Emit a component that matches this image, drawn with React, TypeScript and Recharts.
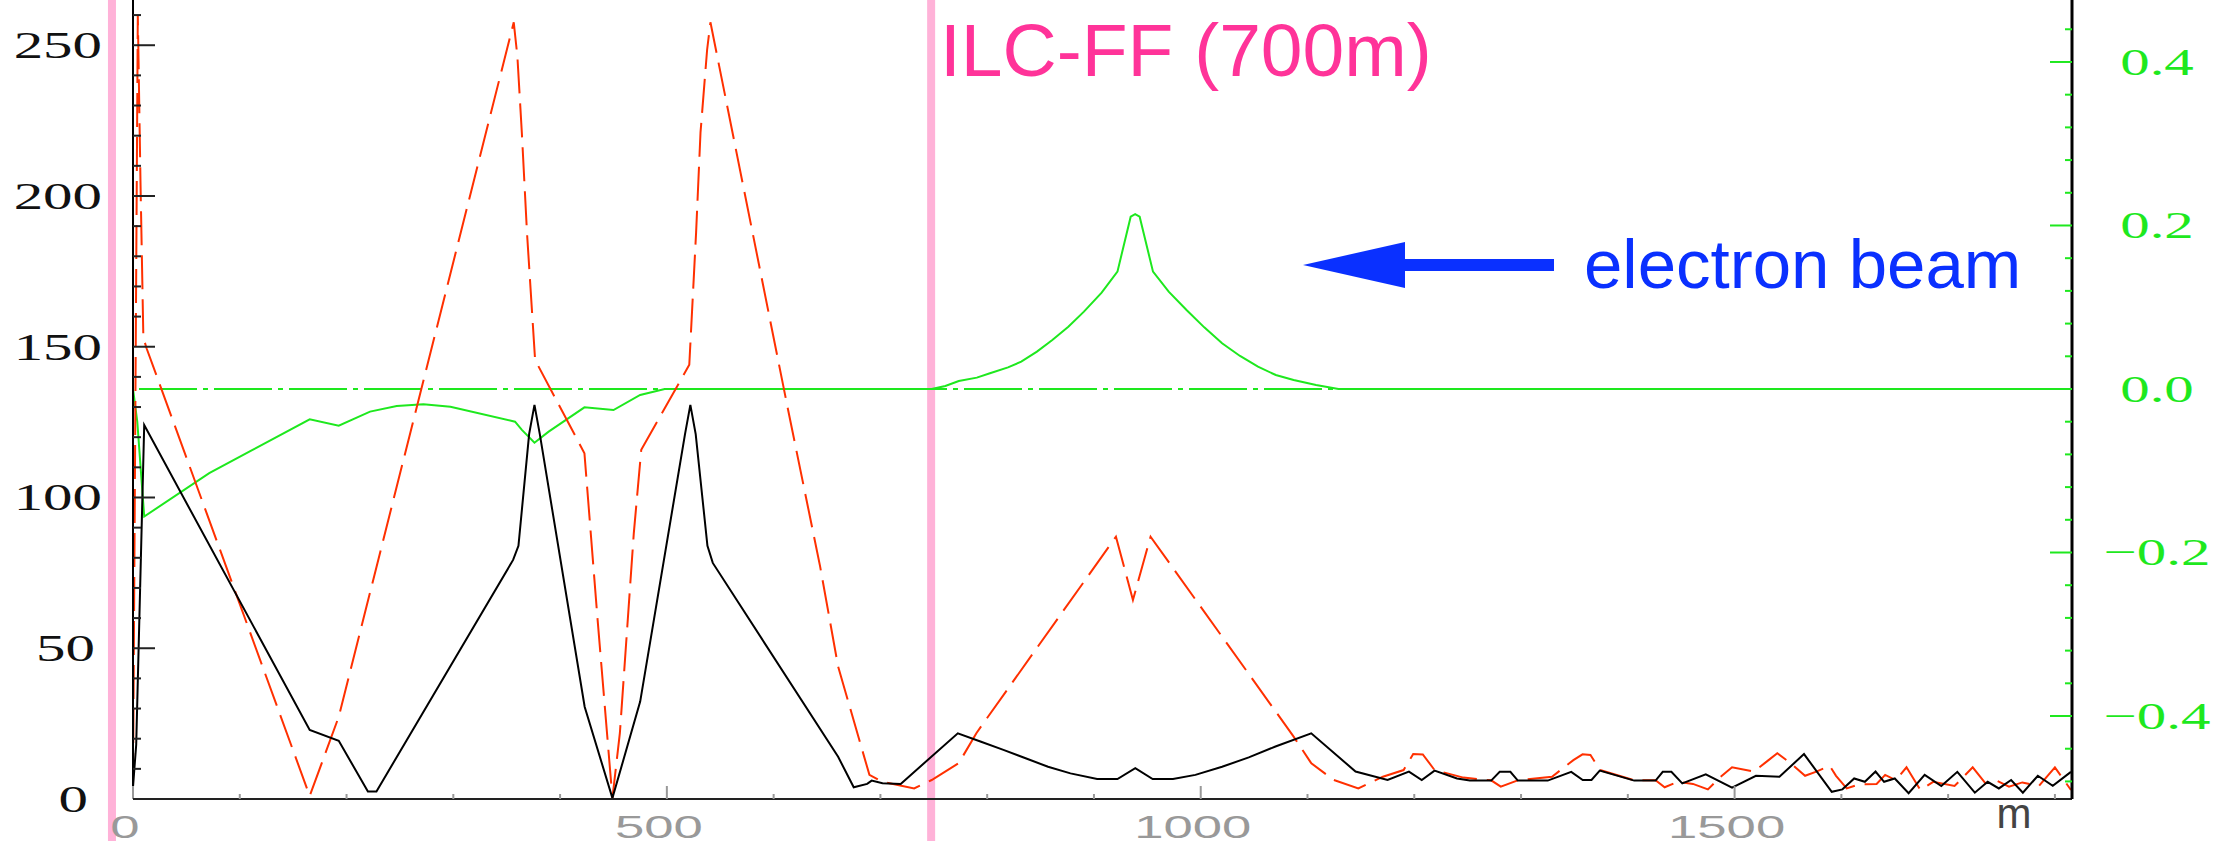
import React from 'react';
import { LineChart, Line, XAxis, YAxis, ReferenceLine } from 'recharts';

// black solid (left axis)
const sBlack = [0, 3, 10.5, 165.5, 192.7, 220, 228, 356, 361, 371, 376, 381, 423, 449, 475, 517, 522, 527, 538, 543, 660.4, 675, 687.6, 691.8, 702, 719, 772.5, 794.3, 815.2, 836, 857, 878, 903, 922, 938.7, 955, 974, 995, 1020, 1045, 1070, 1103.5, 1145, 1175, 1195, 1207, 1219, 1240, 1252, 1272, 1280, 1290, 1297, 1325, 1347, 1357.8, 1366, 1373.7, 1406, 1426, 1432.7, 1440.8, 1451, 1473, 1497.6, 1520, 1542, 1565, 1591, 1601, 1612, 1622, 1632, 1640, 1650, 1663, 1678, 1693.6, 1708.6, 1725, 1737, 1747.5, 1759, 1770, 1784, 1798, 1815];
const vBlack = [4, 18, 124, 22.9, 19.3, 2.5, 2.5, 79.3, 84, 121, 130.7, 121, 30.6, 0.3, 32.3, 121, 130.7, 121, 84, 78.3, 14, 3.9, 5, 6.1, 5.2, 5, 21.8, 19, 16.3, 13.5, 10.7, 8.5, 6.6, 6.6, 10.2, 6.6, 6.6, 8, 10.7, 13.8, 17.4, 21.8, 9.1, 6.3, 9.1, 6.3, 9.4, 6.8, 6.1, 6.1, 9, 9, 6.1, 6.1, 9, 6.3, 6.3, 9.4, 6.1, 6.1, 9, 9, 5.2, 8.2, 3.8, 7.7, 7.4, 14.9, 2.4, 3.2, 6.8, 5.7, 9.1, 5.7, 6.8, 1.9, 8, 4.3, 9, 2.1, 5.7, 3.5, 6.3, 2.1, 7.7, 4.4, 9];

// red dashed (left axis)
const sRed = [0, 4.5, 7, 9.7, 12.7, 165.5, 192.7, 356.6, 360, 364.2, 369, 376.6, 422.8, 435, 449, 456, 469, 476, 521, 527.4, 531.5, 537.7, 540.8, 613, 643.6, 660.4, 689.7, 702, 731.6, 748, 773.4, 790, 920.6, 936.5, 953, 1087, 1103.6, 1124.7, 1147.6, 1170.6, 1190, 1199, 1208, 1219, 1231, 1246, 1272, 1281, 1297, 1329, 1349, 1357.6, 1365, 1374, 1406, 1426, 1434.5, 1447, 1461, 1475, 1487, 1497.6, 1518, 1530, 1540, 1552, 1566, 1576.6, 1589, 1595, 1605, 1617, 1633, 1641, 1651, 1661, 1674, 1686, 1706, 1723, 1735, 1745, 1757, 1769.5, 1785, 1800, 1815];
const vRed = [4, 260, 205, 153, 149.5, 1, 27.3, 257.6, 246.3, 220.8, 187.8, 145.6, 114.7, 60, 0.3, 21.9, 88, 115.8, 144, 188, 221, 248.5, 257.6, 130, 77, 43.9, 8, 5.7, 3.5, 6.3, 11.9, 21.9, 87, 66, 87, 20.7, 11.8, 6.3, 3.5, 7.4, 9.6, 14.9, 14.8, 9.6, 8.5, 7.1, 6.2, 4.1, 6.2, 7.4, 12.9, 14.8, 14.6, 9.6, 6.2, 6.2, 3.9, 5.7, 5, 3.2, 7.4, 10.5, 9.1, 12.4, 15.2, 12, 7.7, 9.1, 11, 7.7, 3.5, 4.9, 5, 8, 6.2, 10.5, 3, 5.7, 4.3, 10.5, 5.2, 6.2, 4.1, 5.5, 4.3, 10.5, 3];

// green solid (right axis)
const sGreen = [0, 4, 10.5, 71.4, 112, 165.5, 192.7, 222, 247, 272, 297.3, 357.8, 364.2, 376, 389.3, 422.8, 450, 475, 498, 748, 760.8, 773.4, 790.3, 802.6, 819.5, 831.9, 846.6, 861, 876, 890.6, 907.2, 922, 934.4, 938.6, 942.8, 955.3, 970, 986.7, 1003.3, 1020, 1036.8, 1053.6, 1070.3, 1087, 1108, 1129, 1815];
const vGreen = [0, -0.04, -0.156, -0.103, -0.0746, -0.0371, -0.0449, -0.0277, -0.0208, -0.0188, -0.0216, -0.04, -0.05, -0.0657, -0.0522, -0.0224, -0.0257, -0.0073, 0, 0, 0.0037, 0.0098, 0.0139, 0.0192, 0.0265, 0.0334, 0.0457, 0.06, 0.0762, 0.0946, 0.1178, 0.1435, 0.2108, 0.214, 0.2108, 0.1435, 0.119, 0.0966, 0.0754, 0.0559, 0.0404, 0.0273, 0.0171, 0.011, 0.0049, 0, 0];

const xTicks = [0, 100, 200, 300, 400, 500, 600, 700, 800, 900, 1000, 1100, 1200, 1300, 1400, 1500, 1600, 1700, 1800];
const xLabels = [0, 500, 1000, 1500];
const leftTicks = [0, 10, 20, 30, 40, 50, 60, 70, 80, 90, 100, 110, 120, 130, 140, 150, 160, 170, 180, 190, 200, 210, 220, 230, 240, 250, 260];
const leftLabels = [0, 50, 100, 150, 200, 250];
const rightTicks = [-0.48, -0.44, -0.4, -0.36, -0.32, -0.28, -0.24, -0.2, -0.16, -0.12, -0.08, -0.04, 0, 0.04, 0.08, 0.12, 0.16, 0.2, 0.24, 0.28, 0.32, 0.36, 0.4, 0.44];
const rightLabels = [-0.4, -0.2, 0, 0.2, 0.4];
const markerPos = [-19.7, 747.5];

const blackData = sBlack.map((s, i) => ({ s, v: vBlack[i] }));
const redData = sRed.map((s, i) => ({ s, v: vRed[i] }));
const greenData = sGreen.map((s, i) => ({ s, v: vGreen[i] }));

const GREEN = '#1ee81e';
const serif = '"Liberation Serif", serif';
const sans = '"Liberation Sans", Arial, sans-serif';

function LeftTick(props: any) {
  const { x, y, payload } = props;
  const v = payload.value;
  const major = leftLabels.includes(v);
  const str = String(v);
  const end = 81 + 7 * str.length;
  return (
    <g>
      <line x1={x} x2={x + (major ? 22 : 8)} y1={y} y2={y} stroke="#222" strokeWidth={2} />
      {major && (
        <text transform={`translate(${end},${y}) scale(1.55,1)`} textAnchor="end" dy="0.34em"
          fontFamily={serif} fontSize={38} fill="#111">{str}</text>
      )}
    </g>
  );
}

function RightTick(props: any) {
  const { x, y, payload } = props;
  const v = payload.value;
  const major = rightLabels.some((m) => Math.abs(m - v) < 1e-6);
  const str = v < -1e-6 ? '\u2212' + Math.abs(v).toFixed(1) : Math.abs(v).toFixed(1);
  return (
    <g>
      <line x1={x} x2={x - (major ? 22 : 7)} y1={y} y2={y} stroke={GREEN} strokeWidth={2} />
      {major && (
        <text transform={`translate(${x + 85},${y}) scale(1.55,1)`} textAnchor="middle" dy="0.34em"
          fontFamily={serif} fontSize={38} fill={GREEN}>{str}</text>
      )}
    </g>
  );
}

function BottomTick(props: any) {
  const { x, y, payload } = props;
  const v = payload.value;
  const major = v % 500 === 0;
  return (
    <g>
      <line x1={x} x2={x} y1={y} y2={y - (major ? 13 : 5)} stroke="#999" strokeWidth={2} />
      {xLabels.includes(v) && (
        <text transform={`translate(${x - 8},${y + 39}) scale(1.7,1)`} textAnchor="middle"
          fontFamily={sans} fontSize={31} fill="#999">{v}</text>
      )}
    </g>
  );
}

const pinkShape = (p: any) => (
  <line x1={p.x1} x2={p.x2} y1={0} y2={841} stroke="#ffb2d8" strokeWidth={8} />
);

export default function App() {
  return (
    <div style={{ position: 'relative', width: 2214, height: 841, background: '#fff' }}>
      <style>{'body{margin:0;}'}</style>
      <LineChart width={2214} height={841} margin={{ top: 0, right: 0, bottom: 0, left: 0 }}>
        <XAxis type="number" dataKey="s" domain={[0, 1816]} allowDataOverflow ticks={xTicks} interval={0}
          height={42} tickSize={0} tickMargin={0} tickLine={false} tick={<BottomTick />}
          axisLine={{ stroke: '#222', strokeWidth: 2 }} />
        <YAxis yAxisId="left" orientation="left" type="number" domain={[0, 265]} allowDataOverflow
          ticks={leftTicks} interval={0} width={133} tickSize={0} tickMargin={0} tickLine={false}
          tick={<LeftTick />} axisLine={{ stroke: '#000', strokeWidth: 2 }} />
        <YAxis yAxisId="right" orientation="right" type="number" domain={[-0.5015, 0.4758]} allowDataOverflow
          ticks={rightTicks} interval={0} width={142} tickSize={0} tickMargin={0} tickLine={false}
          tick={<RightTick />} axisLine={{ stroke: '#000', strokeWidth: 3 }} />
        {markerPos.map((m) => (
          <ReferenceLine key={m} x={m} yAxisId="left" ifOverflow="visible" shape={pinkShape} />
        ))}
        <ReferenceLine y={0} yAxisId="right" stroke={GREEN} strokeWidth={2} strokeDasharray="58 6 5 6" />
        <Line data={greenData} dataKey="v" yAxisId="right" type="linear" stroke={GREEN} strokeWidth={2}
          dot={false} isAnimationActive={false} />
        <Line data={redData} dataKey="v" yAxisId="left" type="linear" stroke="#ff3000" strokeWidth={2}
          strokeDasharray="34 10" dot={false} isAnimationActive={false} />
        <Line data={blackData} dataKey="v" yAxisId="left" type="linear" stroke="#000" strokeWidth={2}
          dot={false} isAnimationActive={false} />
      </LineChart>
      <svg width={2214} height={841} style={{ position: 'absolute', left: 0, top: 0, pointerEvents: 'none' }}>
        <text x={940} y={76} fontFamily={sans} fontSize={75} fill="#ff3399">ILC-FF (700m)</text>
        <polygon points="1303,265 1405,242 1405,288" fill="#0a30ff" />
        <rect x={1404} y={259} width={150} height={12} fill="#0a30ff" />
        <text x={1584} y={288} fontFamily={sans} fontSize={69} fill="#0a30ff">electron beam</text>
        <text x={2014} y={828} textAnchor="middle" fontFamily={sans} fontSize={42} fill="#444">m</text>
      </svg>
    </div>
  );
}
